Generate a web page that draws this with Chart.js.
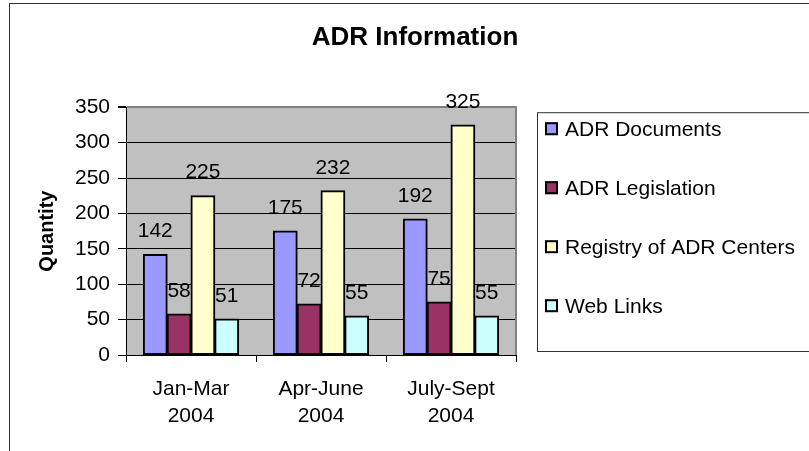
<!DOCTYPE html>
<html>
<head>
<meta charset="utf-8">
<script src="https://cdn.jsdelivr.net/npm/chart.js@4"></script>
<style>
  html, body { margin: 0; padding: 0; background: #fff; overflow: hidden; }
  #frame { position: absolute; left: 9px; top: 3px; width: 840px; height: 480px; border: 1px solid #333; }
  #chart { position: absolute; left: 0; top: 0; }
</style>
</head>
<body>
<div id="frame"><canvas id="chart" width="810" height="460"></canvas></div>
<script>
// quarters shown on the x axis
const categories = [['Jan-Mar', '2004'], ['Apr-June', '2004'], ['July-Sept', '2004']];
const seriesNames = ['ADR Documents', 'ADR Legislation', 'Registry of ADR Centers', 'Web Links'];
const adrDocuments = [142, 175, 192];
const adrLegislation = [58, 72, 75];
const registryCenters = [225, 232, 325];
const webLinks = [51, 55, 55];
const seriesColors = ['#9999FF', '#993366', '#FFFFCC', '#CCFFFF'];
const yTicks = [0, 50, 100, 150, 200, 250, 300, 350];

const FONT = '"Liberation Sans", Arial, sans-serif';
Chart.defaults.font.family = FONT;
Chart.defaults.color = '#000';

// gray plot area like the old Excel charts
const plotBg = {
    id: 'plotBg',
    beforeDraw(chart) {
        const { ctx, chartArea: a } = chart;
        ctx.save();
        ctx.fillStyle = '#C0C0C0';
        ctx.fillRect(a.left, a.top, a.right - a.left, a.bottom - a.top);
        ctx.restore();
    },
    afterDraw(chart) {
        const { ctx, chartArea: a } = chart;
        ctx.save();
        ctx.strokeStyle = '#808080';
        ctx.lineWidth = 2;
        ctx.beginPath();
        ctx.moveTo(a.right, a.top - 1);
        ctx.lineTo(a.right, a.bottom);
        ctx.stroke();
        ctx.restore();
    }
};

// value above each bar
const barValues = {
    id: 'barValues',
    afterDatasetsDraw(chart) {
        const ctx = chart.ctx;
        ctx.save();
        ctx.font = '21px ' + FONT;
        ctx.fillStyle = '#000';
        ctx.textAlign = 'center';
        ctx.textBaseline = 'middle';
        chart.data.datasets.forEach((ds, i) => {
            chart.getDatasetMeta(i).data.forEach((bar, j) => {
                ctx.fillText(ds.data[j], bar.x, bar.y - 23);
            });
        });
        ctx.restore();
    }
};

// boxed legend on the right
const legendBox = {
    id: 'legendBox',
    afterDraw(chart) {
        const { ctx, chartArea: a } = chart;
        const left = a.right + 21, top = a.top + 5, bottom = a.bottom - 4;
        ctx.save();
        ctx.strokeStyle = '#333';
        ctx.lineWidth = 1;
        ctx.strokeRect(left + 0.5, top + 0.5, chart.width, bottom - top);
        ctx.font = '21px ' + FONT;
        ctx.textBaseline = 'middle';
        chart.data.datasets.forEach((ds, i) => {
            const y = top + 18 + i * 59;
            ctx.fillStyle = ds.backgroundColor;
            ctx.fillRect(left + 8, y - 8, 13, 13);
            ctx.strokeStyle = '#000';
            ctx.lineWidth = 2;
            ctx.strokeRect(left + 9, y - 7, 11, 11);
            ctx.fillStyle = '#000';
            ctx.fillText(ds.label, left + 28, y);
        });
        ctx.restore();
    }
};

const seriesData = [adrDocuments, adrLegislation, registryCenters, webLinks];

new Chart(document.getElementById('chart'), {
    type: 'bar',
    data: {
        labels: categories,
        datasets: seriesNames.map((name, i) => ({
            label: name,
            data: seriesData[i],
            backgroundColor: seriesColors[i],
            borderColor: '#000',
            borderWidth: 2,
            borderSkipped: false,
            inflateAmount: 0.5,
            categoryPercentage: 0.733,
            barPercentage: 1
        }))
    },
    options: {
        responsive: false,
        animation: false,
        layout: { padding: 0 },
        plugins: {
            legend: { display: false },
            tooltip: { enabled: false },
            title: {
                display: true,
                text: 'ADR Information',
                font: { size: 26, weight: 'bold' },
                color: '#000',
                padding: { top: 18, bottom: 54 }
            }
        },
        scales: {
            x: {
                grid: { drawOnChartArea: false, color: '#000', tickLength: 7 },
                border: { color: '#000', width: 1 },
                ticks: { font: { size: 21, lineHeight: 1.29 }, padding: 14, color: '#000' },
                afterFit(s) { s.height = 109; }
            },
            y: {
                min: 0,
                max: 350,
                afterBuildTicks(s) { s.ticks = yTicks.map(v => ({ value: v })); },
                grid: {
                    color: c => c.tick && c.tick.value === 350 ? '#808080' : '#000',
                    lineWidth: c => c.tick && c.tick.value === 350 ? 2 : 1,
                    tickColor: '#000',
                    tickLength: 8
                },
                border: { color: '#000', width: 1 },
                ticks: { font: { size: 21 }, padding: 8, color: '#000' },
                title: {
                    display: true,
                    text: 'Quantity',
                    font: { size: 20, weight: 'bold' },
                    color: '#000',
                    padding: { top: 25, bottom: 0 }
                },
                afterFit(s) { s.width = 116; }
            },
            // keeps room on the right for the boxed legend
            legendSpace: {
                type: 'linear',
                position: 'right',
                display: true,
                ticks: { display: false },
                grid: { display: false },
                border: { display: false },
                afterFit(s) { s.width = 304; }
            }
        }
    },
    plugins: [plotBg, barValues, legendBox]
});
</script>
</body>
</html>
